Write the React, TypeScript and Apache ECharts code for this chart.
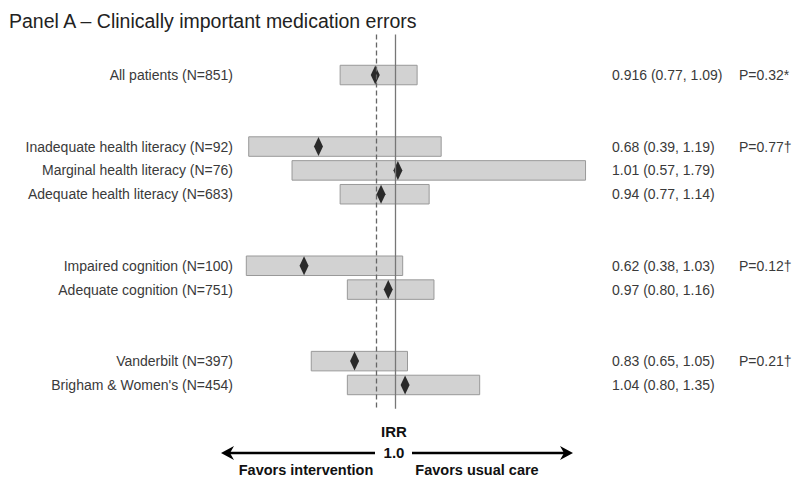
import React, { useEffect, useRef } from "react";
import * as echarts from "echarts";

const labels = [
  "All patients (N=851)",
  "Inadequate health literacy (N=92)",
  "Marginal health literacy (N=76)",
  "Adequate health literacy (N=683)",
  "Impaired cognition (N=100)",
  "Adequate cognition (N=751)",
  "Vanderbilt (N=397)",
  "Brigham & Women's (N=454)",
];
const rows = [0, 3, 4, 5, 8, 9, 12, 13];
const estimates = [0.916, 0.68, 1.01, 0.94, 0.62, 0.97, 0.83, 1.04];
const lower = [0.77, 0.39, 0.57, 0.77, 0.38, 0.8, 0.65, 0.8];
const upper = [1.09, 1.19, 1.79, 1.14, 1.03, 1.16, 1.05, 1.35];
const pValues = ["P=0.32*", "P=0.77\u2020", "", "", "P=0.12\u2020", "", "P=0.21\u2020", ""];
const nullValue = 1.0;
const overallValue = 0.916;

const FONT = "'Liberation Sans', Arial, sans-serif";
const TEXT_COLOR = "#3a3a3a";

function fmt(v: number): string {
  const s = String(v);
  const d = (s.split(".")[1] || "").length;
  return v.toFixed(Math.max(2, d));
}

export default function App() {
  const ref = useRef<HTMLDivElement>(null);
  useEffect(() => {
    document.body.style.margin = "0";
    const chart = echarts.init(ref.current!, null, { renderer: "svg" });
    const tableData = rows.map((r, i) => [lower[i], upper[i], r, i]);
    const textStyle = (text: string, align: string) => ({
      text,
      align,
      verticalAlign: "middle",
      fontSize: 14,
      fontFamily: FONT,
      fill: TEXT_COLOR,
    });
    const option: any = {
      animation: false,
      title: {
        text: "Panel A \u2013 Clinically important medication errors",
        left: 4,
        top: 6,
        textStyle: { fontSize: 19.5, fontWeight: "normal", color: "#222", fontFamily: FONT },
      },
      grid: { left: 203, width: 409, top: 34.5, height: 374.3 },
      xAxis: { type: "value", min: 0.2, max: 1.9, show: false },
      yAxis: { type: "value", min: -1.7, max: 14, inverse: true, show: false },
      series: [
        {
          type: "line",
          data: [],
          z: 1,
          markLine: {
            silent: true,
            symbol: "none",
            label: { show: false },
            data: [
              { xAxis: nullValue, lineStyle: { color: "#777", width: 1.3, type: "solid" } },
              { xAxis: overallValue, lineStyle: { color: "#666", width: 1.3, type: [5, 3] } },
            ],
          },
        },
        {
          type: "custom",
          z: 2,
          data: tableData,
          renderItem: (params: any, api: any) => {
            const lo = api.value(0);
            const hi = api.value(1);
            const row = api.value(2);
            const idx = api.value(3);
            const p1 = api.coord([lo, row]);
            const p2 = api.coord([hi, row]);
            const h = 19.5;
            const y = p1[1];
            return {
              type: "group",
              children: [
                {
                  type: "rect",
                  shape: { x: p1[0], y: y - h / 2, width: p2[0] - p1[0], height: h },
                  style: { fill: "#d2d2d2", stroke: "#999", lineWidth: 1 },
                },
                { type: "text", x: 233, y, style: textStyle(labels[idx], "right") },
                {
                  type: "text",
                  x: 612,
                  y,
                  style: textStyle(`${fmt(estimates[idx])} (${fmt(lower[idx])}, ${fmt(upper[idx])})`, "left"),
                },
                { type: "text", x: 739, y, style: textStyle(pValues[idx], "left") },
              ],
            };
          },
        },
        {
          type: "scatter",
          z: 3,
          symbol: "diamond",
          symbolSize: [9, 19],
          itemStyle: { color: "#000" },
          data: rows.map((r, i) => [estimates[i], r]),
        },
      ],
      graphic: [
        {
          type: "text",
          x: 394,
          y: 431,
          style: { text: "IRR", align: "center", verticalAlign: "middle", fontSize: 15, fontWeight: "bold", fontFamily: FONT, fill: "#111" },
        },
        {
          type: "text",
          x: 394,
          y: 452,
          style: { text: "1.0", align: "center", verticalAlign: "middle", fontSize: 15, fontWeight: "bold", fontFamily: FONT, fill: "#111" },
        },
        {
          type: "line",
          shape: { x1: 228, y1: 453, x2: 375, y2: 453 },
          style: { stroke: "#000", lineWidth: 2.5 },
        },
        {
          type: "polygon",
          shape: { points: [[221, 453], [234, 446], [230, 453], [234, 460]] },
          style: { fill: "#000" },
        },
        {
          type: "line",
          shape: { x1: 412, y1: 453, x2: 566, y2: 453 },
          style: { stroke: "#000", lineWidth: 2.5 },
        },
        {
          type: "polygon",
          shape: { points: [[573, 453], [560, 446], [564, 453], [560, 460]] },
          style: { fill: "#000" },
        },
        {
          type: "text",
          x: 306,
          y: 470,
          style: { text: "Favors intervention", align: "center", verticalAlign: "middle", fontSize: 14.5, fontWeight: "bold", fontFamily: FONT, fill: "#111" },
        },
        {
          type: "text",
          x: 477,
          y: 470,
          style: { text: "Favors usual care", align: "center", verticalAlign: "middle", fontSize: 14.5, fontWeight: "bold", fontFamily: FONT, fill: "#111" },
        },
      ],
    };
    chart.setOption(option);
    return () => chart.dispose();
  }, []);
  return <div ref={ref} style={{ width: 800, height: 484 }} />;
}
